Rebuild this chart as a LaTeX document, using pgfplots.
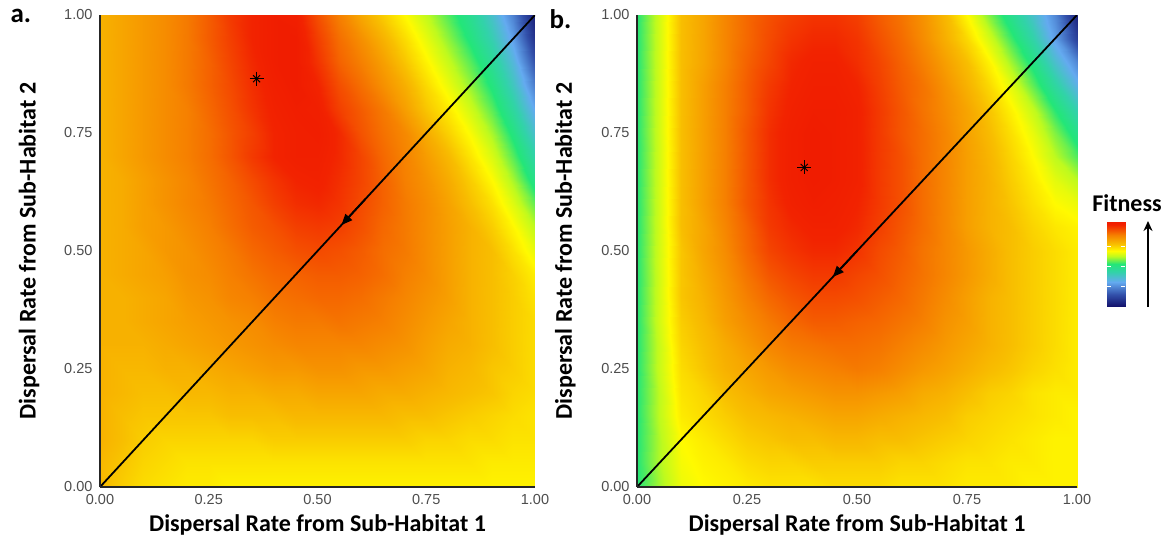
\documentclass[border=0pt]{standalone}
\usepackage{pgfplots}
\usepackage{pgfplotstable}
\pgfplotsset{compat=1.18}
\usepackage{fontspec}
\setmainfont{Carlito}
\newfontfamily\arialfont{Liberation Sans}
\usetikzlibrary{arrows.meta}
\definecolor{tickgray}{RGB}{77,77,77}
\pgfplotsset{
  colormap={fitness}{rgb255(0pt)=(20,20,110) rgb255(12pt)=(50,80,170) rgb255(25pt)=(100,170,240) rgb255(36pt)=(50,210,170) rgb255(45pt)=(35,230,120) rgb255(55pt)=(190,250,30) rgb255(62pt)=(255,250,0) rgb255(70pt)=(248,190,0) rgb255(78pt)=(246,140,0) rgb255(88pt)=(244,80,0) rgb255(96pt)=(242,35,0) rgb255(100pt)=(240,28,0)},
}
% Panel a: x y fitness (scanlines of constant y)
\pgfplotstableread{
x y z
0.00 0.00 0.71
0.05 0.00 0.68
0.10 0.00 0.66
0.15 0.00 0.65
0.20 0.00 0.64
0.25 0.00 0.64
0.30 0.00 0.63
0.35 0.00 0.63
0.40 0.00 0.63
0.45 0.00 0.63
0.50 0.00 0.63
0.55 0.00 0.63
0.60 0.00 0.63
0.65 0.00 0.63
0.70 0.00 0.63
0.75 0.00 0.63
0.80 0.00 0.63
0.85 0.00 0.63
0.90 0.00 0.63
0.95 0.00 0.63
1.00 0.00 0.63
0.00 0.05 0.71
0.05 0.05 0.69
0.10 0.05 0.67
0.15 0.05 0.66
0.20 0.05 0.65
0.25 0.05 0.65
0.30 0.05 0.65
0.35 0.05 0.65
0.40 0.05 0.65
0.45 0.05 0.65
0.50 0.05 0.65
0.55 0.05 0.65
0.60 0.05 0.65
0.65 0.05 0.65
0.70 0.05 0.65
0.75 0.05 0.65
0.80 0.05 0.65
0.85 0.05 0.65
0.90 0.05 0.64
0.95 0.05 0.64
1.00 0.05 0.64
0.00 0.10 0.72
0.05 0.10 0.70
0.10 0.10 0.68
0.15 0.10 0.67
0.20 0.10 0.67
0.25 0.10 0.67
0.30 0.10 0.67
0.35 0.10 0.67
0.40 0.10 0.68
0.45 0.10 0.68
0.50 0.10 0.68
0.55 0.10 0.68
0.60 0.10 0.68
0.65 0.10 0.68
0.70 0.10 0.68
0.75 0.10 0.67
0.80 0.10 0.67
0.85 0.10 0.66
0.90 0.10 0.66
0.95 0.10 0.65
1.00 0.10 0.65
0.00 0.15 0.72
0.05 0.15 0.70
0.10 0.15 0.69
0.15 0.15 0.69
0.20 0.15 0.69
0.25 0.15 0.69
0.30 0.15 0.70
0.35 0.15 0.70
0.40 0.15 0.70
0.45 0.15 0.71
0.50 0.15 0.71
0.55 0.15 0.71
0.60 0.15 0.71
0.65 0.15 0.71
0.70 0.15 0.70
0.75 0.15 0.70
0.80 0.15 0.69
0.85 0.15 0.68
0.90 0.15 0.67
0.95 0.15 0.66
1.00 0.15 0.65
0.00 0.20 0.72
0.05 0.20 0.71
0.10 0.20 0.70
0.15 0.20 0.70
0.20 0.20 0.71
0.25 0.20 0.71
0.30 0.20 0.72
0.35 0.20 0.72
0.40 0.20 0.73
0.45 0.20 0.73
0.50 0.20 0.74
0.55 0.20 0.74
0.60 0.20 0.74
0.65 0.20 0.73
0.70 0.20 0.73
0.75 0.20 0.72
0.80 0.20 0.71
0.85 0.20 0.70
0.90 0.20 0.69
0.95 0.20 0.67
1.00 0.20 0.66
0.00 0.25 0.72
0.05 0.25 0.71
0.10 0.25 0.71
0.15 0.25 0.72
0.20 0.25 0.72
0.25 0.25 0.73
0.30 0.25 0.74
0.35 0.25 0.75
0.40 0.25 0.76
0.45 0.25 0.76
0.50 0.25 0.77
0.55 0.25 0.77
0.60 0.25 0.76
0.65 0.25 0.76
0.70 0.25 0.75
0.75 0.25 0.74
0.80 0.25 0.72
0.85 0.25 0.71
0.90 0.25 0.69
0.95 0.25 0.68
1.00 0.25 0.66
0.00 0.30 0.72
0.05 0.30 0.72
0.10 0.30 0.72
0.15 0.30 0.73
0.20 0.30 0.74
0.25 0.30 0.75
0.30 0.30 0.76
0.35 0.30 0.77
0.40 0.30 0.78
0.45 0.30 0.79
0.50 0.30 0.79
0.55 0.30 0.79
0.60 0.30 0.79
0.65 0.30 0.78
0.70 0.30 0.77
0.75 0.30 0.75
0.80 0.30 0.73
0.85 0.30 0.72
0.90 0.30 0.70
0.95 0.30 0.68
1.00 0.30 0.66
0.00 0.35 0.72
0.05 0.35 0.72
0.10 0.35 0.73
0.15 0.35 0.74
0.20 0.35 0.75
0.25 0.35 0.76
0.30 0.35 0.77
0.35 0.35 0.78
0.40 0.35 0.80
0.45 0.35 0.81
0.50 0.35 0.81
0.55 0.35 0.82
0.60 0.35 0.81
0.65 0.35 0.80
0.70 0.35 0.78
0.75 0.35 0.76
0.80 0.35 0.74
0.85 0.35 0.72
0.90 0.35 0.70
0.95 0.35 0.68
1.00 0.35 0.66
0.00 0.40 0.72
0.05 0.40 0.72
0.10 0.40 0.73
0.15 0.40 0.74
0.20 0.40 0.76
0.25 0.40 0.77
0.30 0.40 0.79
0.35 0.40 0.80
0.40 0.40 0.82
0.45 0.40 0.83
0.50 0.40 0.84
0.55 0.40 0.84
0.60 0.40 0.83
0.65 0.40 0.81
0.70 0.40 0.79
0.75 0.40 0.77
0.80 0.40 0.75
0.85 0.40 0.72
0.90 0.40 0.70
0.95 0.40 0.68
1.00 0.40 0.65
0.00 0.45 0.72
0.05 0.45 0.73
0.10 0.45 0.74
0.15 0.45 0.75
0.20 0.45 0.77
0.25 0.45 0.78
0.30 0.45 0.80
0.35 0.45 0.82
0.40 0.45 0.84
0.45 0.45 0.85
0.50 0.45 0.86
0.55 0.45 0.86
0.60 0.45 0.85
0.65 0.45 0.83
0.70 0.45 0.80
0.75 0.45 0.78
0.80 0.45 0.75
0.85 0.45 0.72
0.90 0.45 0.70
0.95 0.45 0.675
1.00 0.45 0.635
0.00 0.50 0.72
0.05 0.50 0.73
0.10 0.50 0.74
0.15 0.50 0.76
0.20 0.50 0.77
0.25 0.50 0.79
0.30 0.50 0.81
0.35 0.50 0.84
0.40 0.50 0.86
0.45 0.50 0.88
0.50 0.50 0.89
0.55 0.50 0.88
0.60 0.50 0.86
0.65 0.50 0.83
0.70 0.50 0.81
0.75 0.50 0.78
0.80 0.50 0.75
0.85 0.50 0.72
0.90 0.50 0.70
0.95 0.50 0.655
1.00 0.50 0.595
0.00 0.55 0.72
0.05 0.55 0.73
0.10 0.55 0.75
0.15 0.55 0.76
0.20 0.55 0.78
0.25 0.55 0.80
0.30 0.55 0.83
0.35 0.55 0.86
0.40 0.55 0.88
0.45 0.55 0.91
0.50 0.55 0.92
0.55 0.55 0.91
0.60 0.55 0.88
0.65 0.55 0.84
0.70 0.55 0.81
0.75 0.55 0.78
0.80 0.55 0.75
0.85 0.55 0.72
0.90 0.55 0.68
0.95 0.55 0.625
1.00 0.55 0.55
0.00 0.60 0.72
0.05 0.60 0.73
0.10 0.60 0.75
0.15 0.60 0.77
0.20 0.60 0.79
0.25 0.60 0.81
0.30 0.60 0.84
0.35 0.60 0.87
0.40 0.60 0.91
0.45 0.60 0.94
0.50 0.60 0.95
0.55 0.60 0.93
0.60 0.60 0.89
0.65 0.60 0.85
0.70 0.60 0.81
0.75 0.60 0.78
0.80 0.60 0.745
0.85 0.60 0.70
0.90 0.60 0.655
0.95 0.60 0.585
1.00 0.60 0.49
0.00 0.65 0.72
0.05 0.65 0.73
0.10 0.65 0.75
0.15 0.65 0.77
0.20 0.65 0.79
0.25 0.65 0.82
0.30 0.65 0.85
0.35 0.65 0.89
0.40 0.65 0.93
0.45 0.65 0.96
0.50 0.65 0.97
0.55 0.65 0.94
0.60 0.65 0.90
0.65 0.65 0.85
0.70 0.65 0.80
0.75 0.65 0.77
0.80 0.65 0.73
0.85 0.65 0.68
0.90 0.65 0.62
0.95 0.65 0.535
1.00 0.65 0.42
0.00 0.70 0.72
0.05 0.70 0.74
0.10 0.70 0.76
0.15 0.70 0.78
0.20 0.70 0.80
0.25 0.70 0.83
0.30 0.70 0.87
0.35 0.70 0.92
0.40 0.70 0.96
0.45 0.70 0.98
0.50 0.70 0.98
0.55 0.70 0.95
0.60 0.70 0.90
0.65 0.70 0.84
0.70 0.70 0.795
0.75 0.70 0.755
0.80 0.70 0.71
0.85 0.70 0.65
0.90 0.70 0.58
0.95 0.70 0.485
1.00 0.70 0.365
0.00 0.75 0.72
0.05 0.75 0.74
0.10 0.75 0.76
0.15 0.75 0.78
0.20 0.75 0.80
0.25 0.75 0.83
0.30 0.75 0.87
0.35 0.75 0.91
0.40 0.75 0.96
0.45 0.75 0.98
0.50 0.75 0.99
0.55 0.75 0.95
0.60 0.75 0.875
0.65 0.75 0.825
0.70 0.75 0.785
0.75 0.75 0.73
0.80 0.75 0.675
0.85 0.75 0.615
0.90 0.75 0.535
0.95 0.75 0.435
1.00 0.75 0.305
0.00 0.80 0.72
0.05 0.80 0.74
0.10 0.80 0.76
0.15 0.80 0.78
0.20 0.80 0.80
0.25 0.80 0.84
0.30 0.80 0.88
0.35 0.80 0.93
0.40 0.80 0.97
0.45 0.80 0.99
0.50 0.80 0.98
0.55 0.80 0.91
0.60 0.80 0.86
0.65 0.80 0.81
0.70 0.80 0.75
0.75 0.80 0.69
0.80 0.80 0.64
0.85 0.80 0.57
0.90 0.80 0.485
0.95 0.80 0.38
1.00 0.80 0.245
0.00 0.85 0.72
0.05 0.85 0.74
0.10 0.85 0.76
0.15 0.85 0.78
0.20 0.85 0.81
0.25 0.85 0.85
0.30 0.85 0.89
0.35 0.85 0.94
0.40 0.85 0.98
0.45 0.85 1.00
0.50 0.85 0.96
0.55 0.85 0.885
0.60 0.85 0.83
0.65 0.85 0.775
0.70 0.85 0.725
0.75 0.85 0.665
0.80 0.85 0.60
0.85 0.85 0.525
0.90 0.85 0.44
0.95 0.85 0.33
1.00 0.85 0.185
0.00 0.90 0.72
0.05 0.90 0.74
0.10 0.90 0.76
0.15 0.90 0.78
0.20 0.90 0.81
0.25 0.90 0.85
0.30 0.90 0.90
0.35 0.90 0.95
0.40 0.90 0.99
0.45 0.90 1.00
0.50 0.90 0.93
0.55 0.90 0.85
0.60 0.90 0.80
0.65 0.90 0.75
0.70 0.90 0.69
0.75 0.90 0.63
0.80 0.90 0.56
0.85 0.90 0.485
0.90 0.90 0.395
0.95 0.90 0.285
1.00 0.90 0.12
0.00 0.95 0.72
0.05 0.95 0.74
0.10 0.95 0.76
0.15 0.95 0.78
0.20 0.95 0.81
0.25 0.95 0.86
0.30 0.95 0.91
0.35 0.95 0.96
0.40 0.95 0.99
0.45 0.95 1.00
0.50 0.95 0.91
0.55 0.95 0.83
0.60 0.95 0.775
0.65 0.95 0.72
0.70 0.95 0.66
0.75 0.95 0.595
0.80 0.95 0.52
0.85 0.95 0.44
0.90 0.95 0.35
0.95 0.95 0.235
1.00 0.95 0.06
0.00 1.00 0.72
0.05 1.00 0.74
0.10 1.00 0.76
0.15 1.00 0.78
0.20 1.00 0.81
0.25 1.00 0.86
0.30 1.00 0.92
0.35 1.00 0.96
0.40 1.00 0.99
0.45 1.00 0.98
0.50 1.00 0.88
0.55 1.00 0.80
0.60 1.00 0.735
0.65 1.00 0.68
0.70 1.00 0.62
0.75 1.00 0.555
0.80 1.00 0.48
0.85 1.00 0.405
0.90 1.00 0.31
0.95 1.00 0.19
1.00 1.00 0.02
}\dataA
% Panel b
\pgfplotstableread{
x y z
0.00 0.00 0.45
0.05 0.00 0.53
0.10 0.00 0.60
0.15 0.00 0.62
0.20 0.00 0.63
0.25 0.00 0.64
0.30 0.00 0.65
0.35 0.00 0.65
0.40 0.00 0.65
0.45 0.00 0.66
0.50 0.00 0.66
0.55 0.00 0.66
0.60 0.00 0.65
0.65 0.00 0.65
0.70 0.00 0.65
0.75 0.00 0.64
0.80 0.00 0.64
0.85 0.00 0.64
0.90 0.00 0.63
0.95 0.00 0.63
1.00 0.00 0.63
0.00 0.05 0.45
0.05 0.05 0.54
0.10 0.05 0.61
0.15 0.05 0.63
0.20 0.05 0.64
0.25 0.05 0.66
0.30 0.05 0.67
0.35 0.05 0.67
0.40 0.05 0.68
0.45 0.05 0.68
0.50 0.05 0.68
0.55 0.05 0.68
0.60 0.05 0.67
0.65 0.05 0.67
0.70 0.05 0.66
0.75 0.05 0.65
0.80 0.05 0.65
0.85 0.05 0.64
0.90 0.05 0.64
0.95 0.05 0.63
1.00 0.05 0.63
0.00 0.10 0.45
0.05 0.10 0.54
0.10 0.10 0.62
0.15 0.10 0.64
0.20 0.10 0.66
0.25 0.10 0.68
0.30 0.10 0.69
0.35 0.10 0.70
0.40 0.10 0.70
0.45 0.10 0.71
0.50 0.10 0.71
0.55 0.10 0.70
0.60 0.10 0.70
0.65 0.10 0.69
0.70 0.10 0.68
0.75 0.10 0.67
0.80 0.10 0.66
0.85 0.10 0.65
0.90 0.10 0.64
0.95 0.10 0.63
1.00 0.10 0.63
0.00 0.15 0.45
0.05 0.15 0.55
0.10 0.15 0.64
0.15 0.15 0.66
0.20 0.15 0.68
0.25 0.15 0.70
0.30 0.15 0.71
0.35 0.15 0.72
0.40 0.15 0.73
0.45 0.15 0.74
0.50 0.15 0.74
0.55 0.15 0.73
0.60 0.15 0.72
0.65 0.15 0.71
0.70 0.15 0.70
0.75 0.15 0.68
0.80 0.15 0.67
0.85 0.15 0.66
0.90 0.15 0.65
0.95 0.15 0.64
1.00 0.15 0.63
0.00 0.20 0.45
0.05 0.20 0.55
0.10 0.20 0.65
0.15 0.20 0.67
0.20 0.20 0.70
0.25 0.20 0.72
0.30 0.20 0.74
0.35 0.20 0.75
0.40 0.20 0.76
0.45 0.20 0.77
0.50 0.20 0.77
0.55 0.20 0.76
0.60 0.20 0.75
0.65 0.20 0.73
0.70 0.20 0.72
0.75 0.20 0.70
0.80 0.20 0.68
0.85 0.20 0.67
0.90 0.20 0.65
0.95 0.20 0.64
1.00 0.20 0.64
0.00 0.25 0.45
0.05 0.25 0.56
0.10 0.25 0.66
0.15 0.25 0.69
0.20 0.25 0.72
0.25 0.25 0.74
0.30 0.25 0.76
0.35 0.25 0.78
0.40 0.25 0.79
0.45 0.25 0.80
0.50 0.25 0.81
0.55 0.25 0.80
0.60 0.25 0.78
0.65 0.25 0.76
0.70 0.25 0.745
0.75 0.25 0.725
0.80 0.25 0.705
0.85 0.25 0.69
0.90 0.25 0.67
0.95 0.25 0.655
1.00 0.25 0.64
0.00 0.30 0.45
0.05 0.30 0.56
0.10 0.30 0.67
0.15 0.30 0.70
0.20 0.30 0.73
0.25 0.30 0.76
0.30 0.30 0.79
0.35 0.30 0.81
0.40 0.30 0.82
0.45 0.30 0.83
0.50 0.30 0.83
0.55 0.30 0.82
0.60 0.30 0.80
0.65 0.30 0.78
0.70 0.30 0.76
0.75 0.30 0.74
0.80 0.30 0.72
0.85 0.30 0.70
0.90 0.30 0.68
0.95 0.30 0.66
1.00 0.30 0.64
0.00 0.35 0.45
0.05 0.35 0.57
0.10 0.35 0.68
0.15 0.35 0.71
0.20 0.35 0.75
0.25 0.35 0.78
0.30 0.35 0.81
0.35 0.35 0.84
0.40 0.35 0.86
0.45 0.35 0.86
0.50 0.35 0.85
0.55 0.35 0.84
0.60 0.35 0.82
0.65 0.35 0.80
0.70 0.35 0.77
0.75 0.35 0.75
0.80 0.35 0.72
0.85 0.35 0.70
0.90 0.35 0.68
0.95 0.35 0.66
1.00 0.35 0.64
0.00 0.40 0.45
0.05 0.40 0.57
0.10 0.40 0.69
0.15 0.40 0.72
0.20 0.40 0.76
0.25 0.40 0.80
0.30 0.40 0.84
0.35 0.40 0.87
0.40 0.40 0.89
0.45 0.40 0.89
0.50 0.40 0.88
0.55 0.40 0.86
0.60 0.40 0.84
0.65 0.40 0.81
0.70 0.40 0.78
0.75 0.40 0.75
0.80 0.40 0.72
0.85 0.40 0.70
0.90 0.40 0.68
0.95 0.40 0.66
1.00 0.40 0.64
0.00 0.45 0.45
0.05 0.45 0.57
0.10 0.45 0.69
0.15 0.45 0.73
0.20 0.45 0.77
0.25 0.45 0.82
0.30 0.45 0.87
0.35 0.45 0.90
0.40 0.45 0.92
0.45 0.45 0.92
0.50 0.45 0.90
0.55 0.45 0.88
0.60 0.45 0.85
0.65 0.45 0.82
0.70 0.45 0.79
0.75 0.45 0.76
0.80 0.45 0.73
0.85 0.45 0.70
0.90 0.45 0.68
0.95 0.45 0.66
1.00 0.45 0.64
0.00 0.50 0.45
0.05 0.50 0.57
0.10 0.50 0.69
0.15 0.50 0.74
0.20 0.50 0.78
0.25 0.50 0.84
0.30 0.50 0.90
0.35 0.50 0.93
0.40 0.50 0.95
0.45 0.50 0.95
0.50 0.50 0.93
0.55 0.50 0.89
0.60 0.50 0.86
0.65 0.50 0.82
0.70 0.50 0.79
0.75 0.50 0.76
0.80 0.50 0.73
0.85 0.50 0.70
0.90 0.50 0.68
0.95 0.50 0.66
1.00 0.50 0.64
0.00 0.55 0.45
0.05 0.55 0.57
0.10 0.55 0.70
0.15 0.55 0.74
0.20 0.55 0.79
0.25 0.55 0.85
0.30 0.55 0.92
0.35 0.55 0.95
0.40 0.55 0.97
0.45 0.55 0.97
0.50 0.55 0.95
0.55 0.55 0.91
0.60 0.55 0.87
0.65 0.55 0.83
0.70 0.55 0.79
0.75 0.55 0.75
0.80 0.55 0.72
0.85 0.55 0.70
0.90 0.55 0.67
0.95 0.55 0.645
1.00 0.55 0.63
0.00 0.60 0.45
0.05 0.60 0.57
0.10 0.60 0.70
0.15 0.60 0.75
0.20 0.60 0.80
0.25 0.60 0.87
0.30 0.60 0.93
0.35 0.60 0.97
0.40 0.60 0.99
0.45 0.60 0.98
0.50 0.60 0.96
0.55 0.60 0.92
0.60 0.60 0.88
0.65 0.60 0.83
0.70 0.60 0.79
0.75 0.60 0.75
0.80 0.60 0.72
0.85 0.60 0.69
0.90 0.60 0.655
0.95 0.60 0.62
1.00 0.60 0.60
0.00 0.65 0.45
0.05 0.65 0.57
0.10 0.65 0.70
0.15 0.65 0.75
0.20 0.65 0.80
0.25 0.65 0.87
0.30 0.65 0.94
0.35 0.65 0.98
0.40 0.65 1.00
0.45 0.65 0.99
0.50 0.65 0.97
0.55 0.65 0.92
0.60 0.65 0.88
0.65 0.65 0.83
0.70 0.65 0.79
0.75 0.65 0.75
0.80 0.65 0.72
0.85 0.65 0.68
0.90 0.65 0.64
0.95 0.65 0.59
1.00 0.65 0.55
0.00 0.70 0.45
0.05 0.70 0.57
0.10 0.70 0.70
0.15 0.70 0.75
0.20 0.70 0.80
0.25 0.70 0.87
0.30 0.70 0.94
0.35 0.70 0.98
0.40 0.70 1.00
0.45 0.70 0.99
0.50 0.70 0.97
0.55 0.70 0.92
0.60 0.70 0.88
0.65 0.70 0.83
0.70 0.70 0.79
0.75 0.70 0.75
0.80 0.70 0.715
0.85 0.70 0.67
0.90 0.70 0.62
0.95 0.70 0.55
1.00 0.70 0.48
0.00 0.75 0.45
0.05 0.75 0.57
0.10 0.75 0.70
0.15 0.75 0.75
0.20 0.75 0.80
0.25 0.75 0.87
0.30 0.75 0.94
0.35 0.75 0.98
0.40 0.75 1.00
0.45 0.75 0.99
0.50 0.75 0.97
0.55 0.75 0.92
0.60 0.75 0.87
0.65 0.75 0.83
0.70 0.75 0.79
0.75 0.75 0.745
0.80 0.75 0.705
0.85 0.75 0.655
0.90 0.75 0.595
0.95 0.75 0.51
1.00 0.75 0.42
0.00 0.80 0.45
0.05 0.80 0.57
0.10 0.80 0.70
0.15 0.80 0.75
0.20 0.80 0.80
0.25 0.80 0.86
0.30 0.80 0.93
0.35 0.80 0.97
0.40 0.80 0.99
0.45 0.80 0.99
0.50 0.80 0.97
0.55 0.80 0.92
0.60 0.80 0.87
0.65 0.80 0.82
0.70 0.80 0.78
0.75 0.80 0.74
0.80 0.80 0.69
0.85 0.80 0.63
0.90 0.80 0.555
0.95 0.80 0.45
1.00 0.80 0.35
0.00 0.85 0.45
0.05 0.85 0.57
0.10 0.85 0.70
0.15 0.85 0.75
0.20 0.85 0.80
0.25 0.85 0.86
0.30 0.85 0.92
0.35 0.85 0.96
0.40 0.85 0.98
0.45 0.85 0.98
0.50 0.85 0.96
0.55 0.85 0.91
0.60 0.85 0.86
0.65 0.85 0.82
0.70 0.85 0.77
0.75 0.85 0.72
0.80 0.85 0.665
0.85 0.85 0.59
0.90 0.85 0.49
0.95 0.85 0.38
1.00 0.85 0.27
0.00 0.90 0.45
0.05 0.90 0.57
0.10 0.90 0.70
0.15 0.90 0.74
0.20 0.90 0.79
0.25 0.90 0.85
0.30 0.90 0.90
0.35 0.90 0.95
0.40 0.90 0.97
0.45 0.90 0.97
0.50 0.90 0.94
0.55 0.90 0.90
0.60 0.90 0.85
0.65 0.90 0.80
0.70 0.90 0.75
0.75 0.90 0.70
0.80 0.90 0.63
0.85 0.90 0.53
0.90 0.90 0.43
0.95 0.90 0.305
1.00 0.90 0.20
0.00 0.95 0.45
0.05 0.95 0.57
0.10 0.95 0.70
0.15 0.95 0.74
0.20 0.95 0.79
0.25 0.95 0.84
0.30 0.95 0.89
0.35 0.95 0.93
0.40 0.95 0.95
0.45 0.95 0.95
0.50 0.95 0.93
0.55 0.95 0.88
0.60 0.95 0.835
0.65 0.95 0.78
0.70 0.95 0.725
0.75 0.95 0.665
0.80 0.95 0.575
0.85 0.95 0.47
0.90 0.95 0.365
0.95 0.95 0.235
1.00 0.95 0.09
0.00 1.00 0.45
0.05 1.00 0.57
0.10 1.00 0.70
0.15 1.00 0.74
0.20 1.00 0.79
0.25 1.00 0.84
0.30 1.00 0.88
0.35 1.00 0.91
0.40 1.00 0.93
0.45 1.00 0.93
0.50 1.00 0.91
0.55 1.00 0.86
0.60 1.00 0.82
0.65 1.00 0.77
0.70 1.00 0.71
0.75 1.00 0.62
0.80 1.00 0.51
0.85 1.00 0.41
0.90 1.00 0.31
0.95 1.00 0.20
1.00 1.00 0.03
}\dataB
\pgfplotsset{
  panel/.style={
    scale only axis, height=472pt,
    xmin=0, xmax=1, ymin=0, ymax=1, enlargelimits=false,
    axis on top,
    axis x line*=bottom, axis y line*=left,
    axis line style={line width=1.2pt, black!85},
    xtick={0,0.25,0.5,0.75,1}, ytick={0,0.25,0.5,0.75,1},
    xticklabels={0.00,0.25,0.50,0.75,1.00},
    yticklabels={0.00,0.25,0.50,0.75,1.00},
    major tick length=0pt,
    tick label style={font=\arialfont\fontsize{14.5}{16}\selectfont, text=tickgray},
    xticklabel style={yshift=-4pt},
    yticklabel style={xshift=-4pt},
    label style={font=\bfseries\fontsize{24}{28}\selectfont},
    xlabel={Dispersal Rate from Sub-Habitat 1},
    ylabel={Dispersal Rate from Sub-Habitat 2},
    xlabel style={at={(axis description cs:0.5,-0.08)}, anchor=center},
    ylabel style={at={(axis description cs:-0.163,0.5)}, anchor=center},
    colormap name=fitness,
    point meta min=0, point meta max=1,
  },
}
\begin{document}
\begin{tikzpicture}
\useasboundingbox (0,0) rectangle (1170pt,542pt);
% ---------- panel a ----------
\begin{axis}[panel, at={(100pt,55pt)}, anchor=south west, width=435pt]
\addplot[surf, shader=interp, mesh/cols=21, point meta=explicit] table[x=x, y=y, meta=z] {\dataA};
\addplot[black, line width=1.8pt] coordinates {(0,0) (1,1)};
\addplot[black, line width=1.8pt, -{Triangle[length=11pt,width=9pt]}] coordinates {(0.61,0.61) (0.555,0.555)};
\addplot[only marks, mark=+, mark size=7pt, black, mark options={line width=0.9pt}] coordinates {(0.36,0.865)};
\addplot[only marks, mark=x, mark size=5pt, black, mark options={line width=0.9pt}] coordinates {(0.36,0.865)};
\end{axis}
% ---------- panel b ----------
\begin{axis}[panel, at={(637pt,55pt)}, anchor=south west, width=440pt]
\addplot[surf, shader=interp, mesh/cols=21, point meta=explicit] table[x=x, y=y, meta=z] {\dataB};
\addplot[black, line width=1.8pt] coordinates {(0,0) (1,1)};
\addplot[black, line width=1.8pt, -{Triangle[length=11pt,width=9pt]}] coordinates {(0.50,0.50) (0.445,0.445)};
\addplot[only marks, mark=+, mark size=7pt, black, mark options={line width=0.9pt}] coordinates {(0.38,0.677)};
\addplot[only marks, mark=x, mark size=5pt, black, mark options={line width=0.9pt}] coordinates {(0.38,0.677)};
\end{axis}
% ---------- colour key ----------
\begin{axis}[at={(1107pt,236pt)}, anchor=south west, scale only axis, width=18pt, height=84pt,
  hide axis, xmin=0, xmax=1, ymin=0, ymax=1, enlargelimits=false,
  colormap name=fitness, point meta min=0, point meta max=1]
\addplot[surf, shader=interp, mesh/cols=2, point meta=explicit] coordinates {
(0,0) [0] (1,0) [0]
(0,0.29) [0.25] (1,0.29) [0.25]
(0,0.50) [0.45] (1,0.50) [0.45]
(0,0.66) [0.62] (1,0.66) [0.62]
(0,0.85) [0.80] (1,0.85) [0.80]
(0,1) [1] (1,1) [1]
};
\draw[white, line width=0.8pt] (axis cs:0,0.235) -- (axis cs:0.22,0.235) (axis cs:0.78,0.235) -- (axis cs:1,0.235);
\draw[white, line width=0.8pt] (axis cs:0,0.47) -- (axis cs:0.22,0.47) (axis cs:0.78,0.47) -- (axis cs:1,0.47);
\draw[white, line width=0.8pt] (axis cs:0,0.705) -- (axis cs:0.22,0.705) (axis cs:0.78,0.705) -- (axis cs:1,0.705);
\end{axis}
\node[font=\bfseries\fontsize{24}{28}\selectfont] at (1127pt,339pt) {Fitness};
\draw[line width=2.2pt, -{Stealth[length=10pt,width=9pt]}] (1148pt,235pt) -- (1148pt,321pt);
% ---------- panel letters ----------
\node[font=\bfseries\fontsize{27}{30}\selectfont, anchor=north west] at (7pt,536pt) {a.};
\node[font=\bfseries\fontsize{27}{30}\selectfont, anchor=north west] at (546pt,536pt) {b.};
\end{tikzpicture}
\end{document}
